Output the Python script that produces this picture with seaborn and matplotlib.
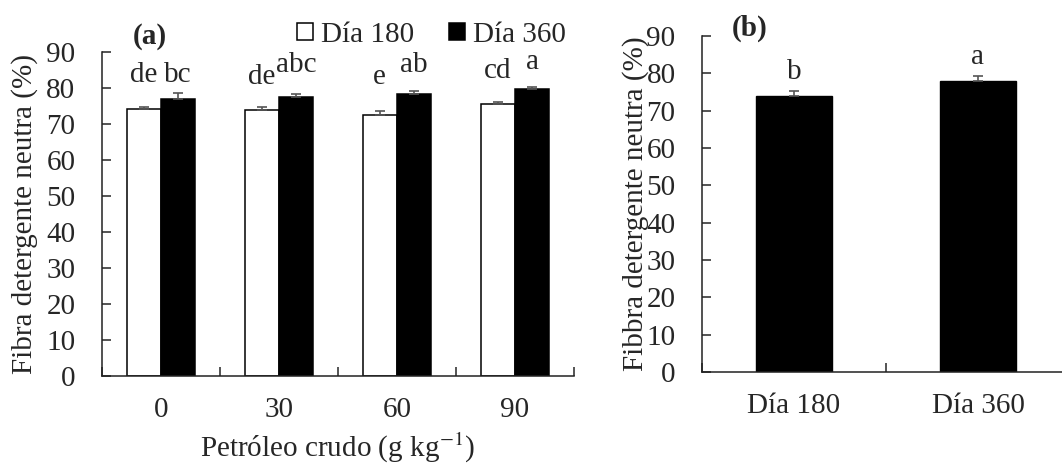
import pandas as pd
import matplotlib
matplotlib.use("Agg")
import matplotlib.pyplot as plt
import seaborn as sns

# Data
doses = ["0", "30", "60", "90"]
days = ["Día 180", "Día 360"]
fdn_180 = [74.0, 73.8, 72.4, 75.4]
fdn_360 = [77.0, 77.4, 78.4, 79.6]
err_180 = [0.7, 0.8, 1.2, 0.7]
err_360 = [1.6, 1.0, 0.7, 0.6]
letters_180 = ["de", "de", "e", "cd"]
letters_360 = ["bc", "abc", "ab", "a"]

fdn_day = [74.0, 78.0]
err_day = [1.2, 1.2]
letters_day = ["b", "a"]

df = pd.DataFrame({
    "dose": doses * 2,
    "day": [days[0]] * 4 + [days[1]] * 4,
    "fdn": fdn_180 + fdn_360,
})
df_b = pd.DataFrame({"day": days, "fdn": fdn_day})

sns.set_style("ticks")
plt.rcParams["font.family"] = ["Liberation Serif", "DejaVu Serif"]
plt.rcParams["mathtext.fontset"] = "stix"
fs = 21

fig = plt.figure(figsize=(10.62, 4.66), dpi=100)
ax1 = fig.add_axes([0.0958, 0.1931, 0.4447, 0.6959])
ax2 = fig.add_axes([0.661, 0.2017, 0.3465, 0.721])

# Panel (a)
sns.barplot(data=df, x="dose", y="fdn", hue="day", palette=["white", "black"],
            edgecolor="black", linewidth=1.1, width=0.58, errorbar=None, ax=ax1)
ax1.get_legend().remove()

lab_y_180 = [81.7, 81.0, 81.0, 82.8]
lab_y_360 = [81.7, 84.5, 84.5, 85.1]
for cont, err, labs, ly in zip(ax1.containers, [err_180, err_360],
                               [letters_180, letters_360], [lab_y_180, lab_y_360]):
    xs = [p.get_x() + p.get_width() / 2 for p in cont.patches]
    hs = [p.get_height() for p in cont.patches]
    ax1.errorbar(xs, hs, yerr=[[0] * len(err), err], fmt="none", ecolor="#555555",
                 elinewidth=1.2, capsize=3.5, capthick=1.2)
    for x, lab, y in zip(xs, labs, ly):
        ax1.text(x, y, lab, ha="center", va="baseline", fontsize=fs)

ax1.set_ylim(0, 90)
ax1.set_xlim(-0.5, 3.5)
ax1.set_yticks(range(0, 91, 10))
ax1.set_xticks(range(4))
ax1.set_xticks([-0.5, 0.5, 1.5, 2.5, 3.5], minor=True)
ax1.tick_params(axis="x", which="major", length=0, pad=15, labelsize=fs)
ax1.tick_params(axis="x", which="minor", direction="in", length=6.5, width=1.1)
ax1.tick_params(axis="y", direction="in", length=6.5, width=1.1, pad=19, labelsize=fs)
ax1.set_xlabel("Petróleo crudo (g kg$^{-1}$)", fontsize=fs, labelpad=6)
ax1.set_ylabel("Fibra detergente neutra (%)", fontsize=fs, labelpad=6)
sns.despine(ax=ax1)
for s in ["left", "bottom"]:
    ax1.spines[s].set_linewidth(1.1)
    ax1.spines[s].set_color("#222222")
fig.text(150 / 1062, 1 - 36 / 466, "(a)", fontsize=fs, fontweight="bold",
         ha="center", va="center")

handles = [ax1.containers[0].patches[0], ax1.containers[1].patches[0]]
fig.legend(handles, days, loc="center left", bbox_to_anchor=(297 / 1062, 1 - 35 / 466),
           frameon=False, ncol=2, fontsize=fs, borderpad=0, borderaxespad=0,
           handlelength=0.55, handleheight=0.55, handletextpad=0.27, columnspacing=1.2)

# Panel (b)
sns.barplot(data=df_b, x="day", y="fdn", color="black", edgecolor="black",
            width=0.41, errorbar=None, ax=ax2)
xs = [p.get_x() + p.get_width() / 2 for p in ax2.patches]
hs = [p.get_height() for p in ax2.patches]
ax2.errorbar(xs, hs, yerr=[[0, 0], err_day], fmt="none", ecolor="#555555",
             elinewidth=1.2, capsize=3.5, capthick=1.2)
lab_y_day = [78.5, 82.5]
for x, lab, y in zip(xs, letters_day, lab_y_day):
    ax2.text(x, y, lab, ha="center", va="baseline", fontsize=fs)

ax2.set_ylim(0, 90)
ax2.set_xlim(-0.5, 1.5)
ax2.set_yticks(range(0, 91, 10))
ax2.set_xticks([-0.5, 0.5, 1.5], minor=True)
ax2.tick_params(axis="x", which="major", length=0, pad=15, labelsize=fs)
ax2.tick_params(axis="x", which="minor", direction="in", length=6.5, width=1.1)
ax2.tick_params(axis="y", direction="in", length=6.5, width=1.1, pad=19, labelsize=fs)
ax2.set_xlabel("")
ax2.set_ylabel("Fibbra detergente neutra (%)", fontsize=fs, labelpad=-2)
sns.despine(ax=ax2)
for s in ["left", "bottom"]:
    ax2.spines[s].set_linewidth(1.1)
    ax2.spines[s].set_color("#222222")
fig.text(750 / 1062, 1 - 28 / 466, "(b)", fontsize=fs, fontweight="bold",
         ha="center", va="center")

fig.savefig("out.png", dpi=100)
